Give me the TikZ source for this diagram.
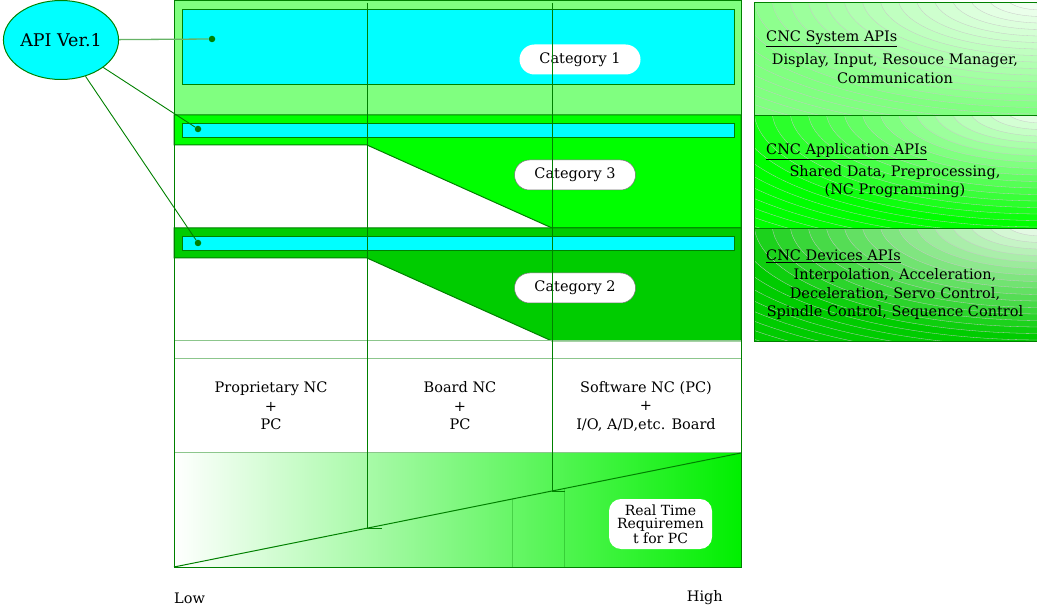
\documentclass[tikz,border=0pt]{standalone}
\usepackage{fontspec}
\setmainfont{DejaVu Serif}
\usetikzlibrary{shapes.geometric}
\definecolor{lg}{HTML}{80FF80}
\definecolor{bg}{HTML}{00FF00}
\definecolor{dg}{HTML}{00CC00}
\definecolor{cy}{HTML}{00FFFF}
\definecolor{ln}{HTML}{008000}
\begin{document}
\begin{tikzpicture}[x=1pt,y=-1pt,
  txt/.style={font=\fontsize{14.5}{18.5}\selectfont, align=center, inner sep=0pt},
  cat/.style={fill=white, rounded corners=15pt, minimum width=121pt, minimum height=30pt, inner sep=0pt, font=\fontsize{14.5}{16}\selectfont},
  bar/.style={fill=cy, draw=ln, line width=0.9pt},
  dot/.style={circle, fill=ln, inner sep=0pt, minimum size=6.5pt},
  conn/.style={draw=ln, line width=0.9pt},
  edge/.style={draw=ln, line width=1pt},
  sep/.style={draw=ln!45, line width=1pt}]
\useasboundingbox (0,0) rectangle (1037,612);
% main regions
\fill[lg] (174,1) rectangle (741,115);
\fill[bg] (174,115) -- (741,115) -- (741,228) -- (552,228) -- (367,145) -- (174,145) -- cycle;
\draw[edge] (174,115) -- (741,115) -- (741,228) -- (552,228) -- (367,145) -- (174,145) -- cycle;
\fill[dg] (174,228) -- (741,228) -- (741,341) -- (552,341) -- (367,258) -- (174,258) -- cycle;
\draw[edge] (174,228) -- (741,228) -- (741,341) -- (552,341) -- (367,258) -- (174,258) -- cycle;
\shade[left color=white, right color=bg!94!black] (174,453) rectangle (741,567);
\draw[sep] (174,341) -- (741,341);
\draw[sep] (174,359) -- (741,359);
\draw[sep] (174,453) -- (741,453);
\draw[edge] (174,1) rectangle (741,567);
% cyan bars
\draw[bar] (182,9) rectangle (734,84);
\draw[bar] (182,123) rectangle (734,137);
\draw[bar] (182,236) rectangle (734,250);
% diagonal
\coordinate (dl) at (174,567);
\coordinate (dr) at (741,453);
\draw[edge] (dl) -- (dr);
\draw[ln, opacity=0.3, line width=0.8pt] (512,499) -- (512,567);
\draw[ln, opacity=0.3, line width=0.8pt] (564,489) -- (564,567);
% right panels
\foreach \py/\col in {3/lg,116/bg,229/dg}{
  \begin{scope}
    \clip (754,\py) rectangle (1037,\py+113);
    \foreach \i in {28,...,1}{
      \pgfmathsetmacro\pc{min(100,100*\i/18)}
      \fill[\col!\pc!white, draw=black!22, line width=0.3pt] (1042,\py-6) ellipse [x radius=\i*18, y radius=\i*6.5];
    }
  \end{scope}
  \draw[edge] (754,\py) rectangle (1037,\py+113);
}
\node[txt, anchor=west] (t1) at (766,39) {\underline{CNC System APIs}};
\node[txt] (t1b) at (895,68.5) {Display, Input, Resouce Manager,\\Communication};
\node[txt, anchor=west] (t2) at (766,152) {\underline{CNC Application APIs}};
\node[txt] (t2b) at (895,181.5) {Shared Data, Preprocessing,\\(NC Programming)};
\node[txt, anchor=west] (t3) at (766,256) {\underline{CNC Devices APIs}};
\node[txt] (t3b) at (895,294.5) {Interpolation, Acceleration,\\Deceleration, Servo Control,\\Spindle Control, Sequence Control};
% category labels
\node[cat] (c1) at (580,59.5) {Category 1};
\node[cat, draw=black!55, line width=0.5pt] (c3) at (575,175) {Category 3};
\node[cat, draw=black!55, line width=0.5pt] (c2) at (575,288) {Category 2};
% system row
\node[txt] (s1) at (271,406) {Proprietary NC\\+\\PC};
\node[txt] (s2) at (460,406) {Board NC\\+\\PC};
\node[txt] (s3) at (646,406) {Software NC (PC)\\+\\I/O, A/D,etc. Board};
% real time box
\node[fill=white, rounded corners=12pt, minimum width=103pt, minimum height=50pt, inner sep=0pt, align=center, font=\fontsize{14}{13.5}\selectfont] (rt) at (660.5,524) {Real Time\\Requiremen\\t for PC};
% vertical lines
\coordinate (v1a) at (367,3);
\coordinate (v1b) at (367,528);
\coordinate (v1c) at (382,528);
\coordinate (v2a) at (552,3);
\coordinate (v2b) at (552,491);
\coordinate (v2c) at (565,491);
\draw[edge] (v1a) -- (v1b) -- (v1c);
\draw[edge] (v2a) -- (v2b) -- (v2c);
% API ellipse
\node[ellipse, draw=ln, fill=cy, line width=1pt, minimum width=114pt, minimum height=79pt, inner sep=0pt, font=\fontsize{17.5}{19}\selectfont] (api) at (61,40) {API Ver.1};
\node[dot] (d1) at (212,39) {};
\node[dot] (d2) at (198,129) {};
\node[dot] (d3) at (198,243) {};
\draw[conn, draw=ln!60, line width=1.3pt] (api) -- (d1);
\draw[conn] (api) -- (d2);
\draw[conn] (api) -- (d3);
% axis labels
\node[txt, anchor=west] (low) at (174,598) {Low};
\node[txt, anchor=east] (high) at (723,598) {High};
\end{tikzpicture}
\end{document}
